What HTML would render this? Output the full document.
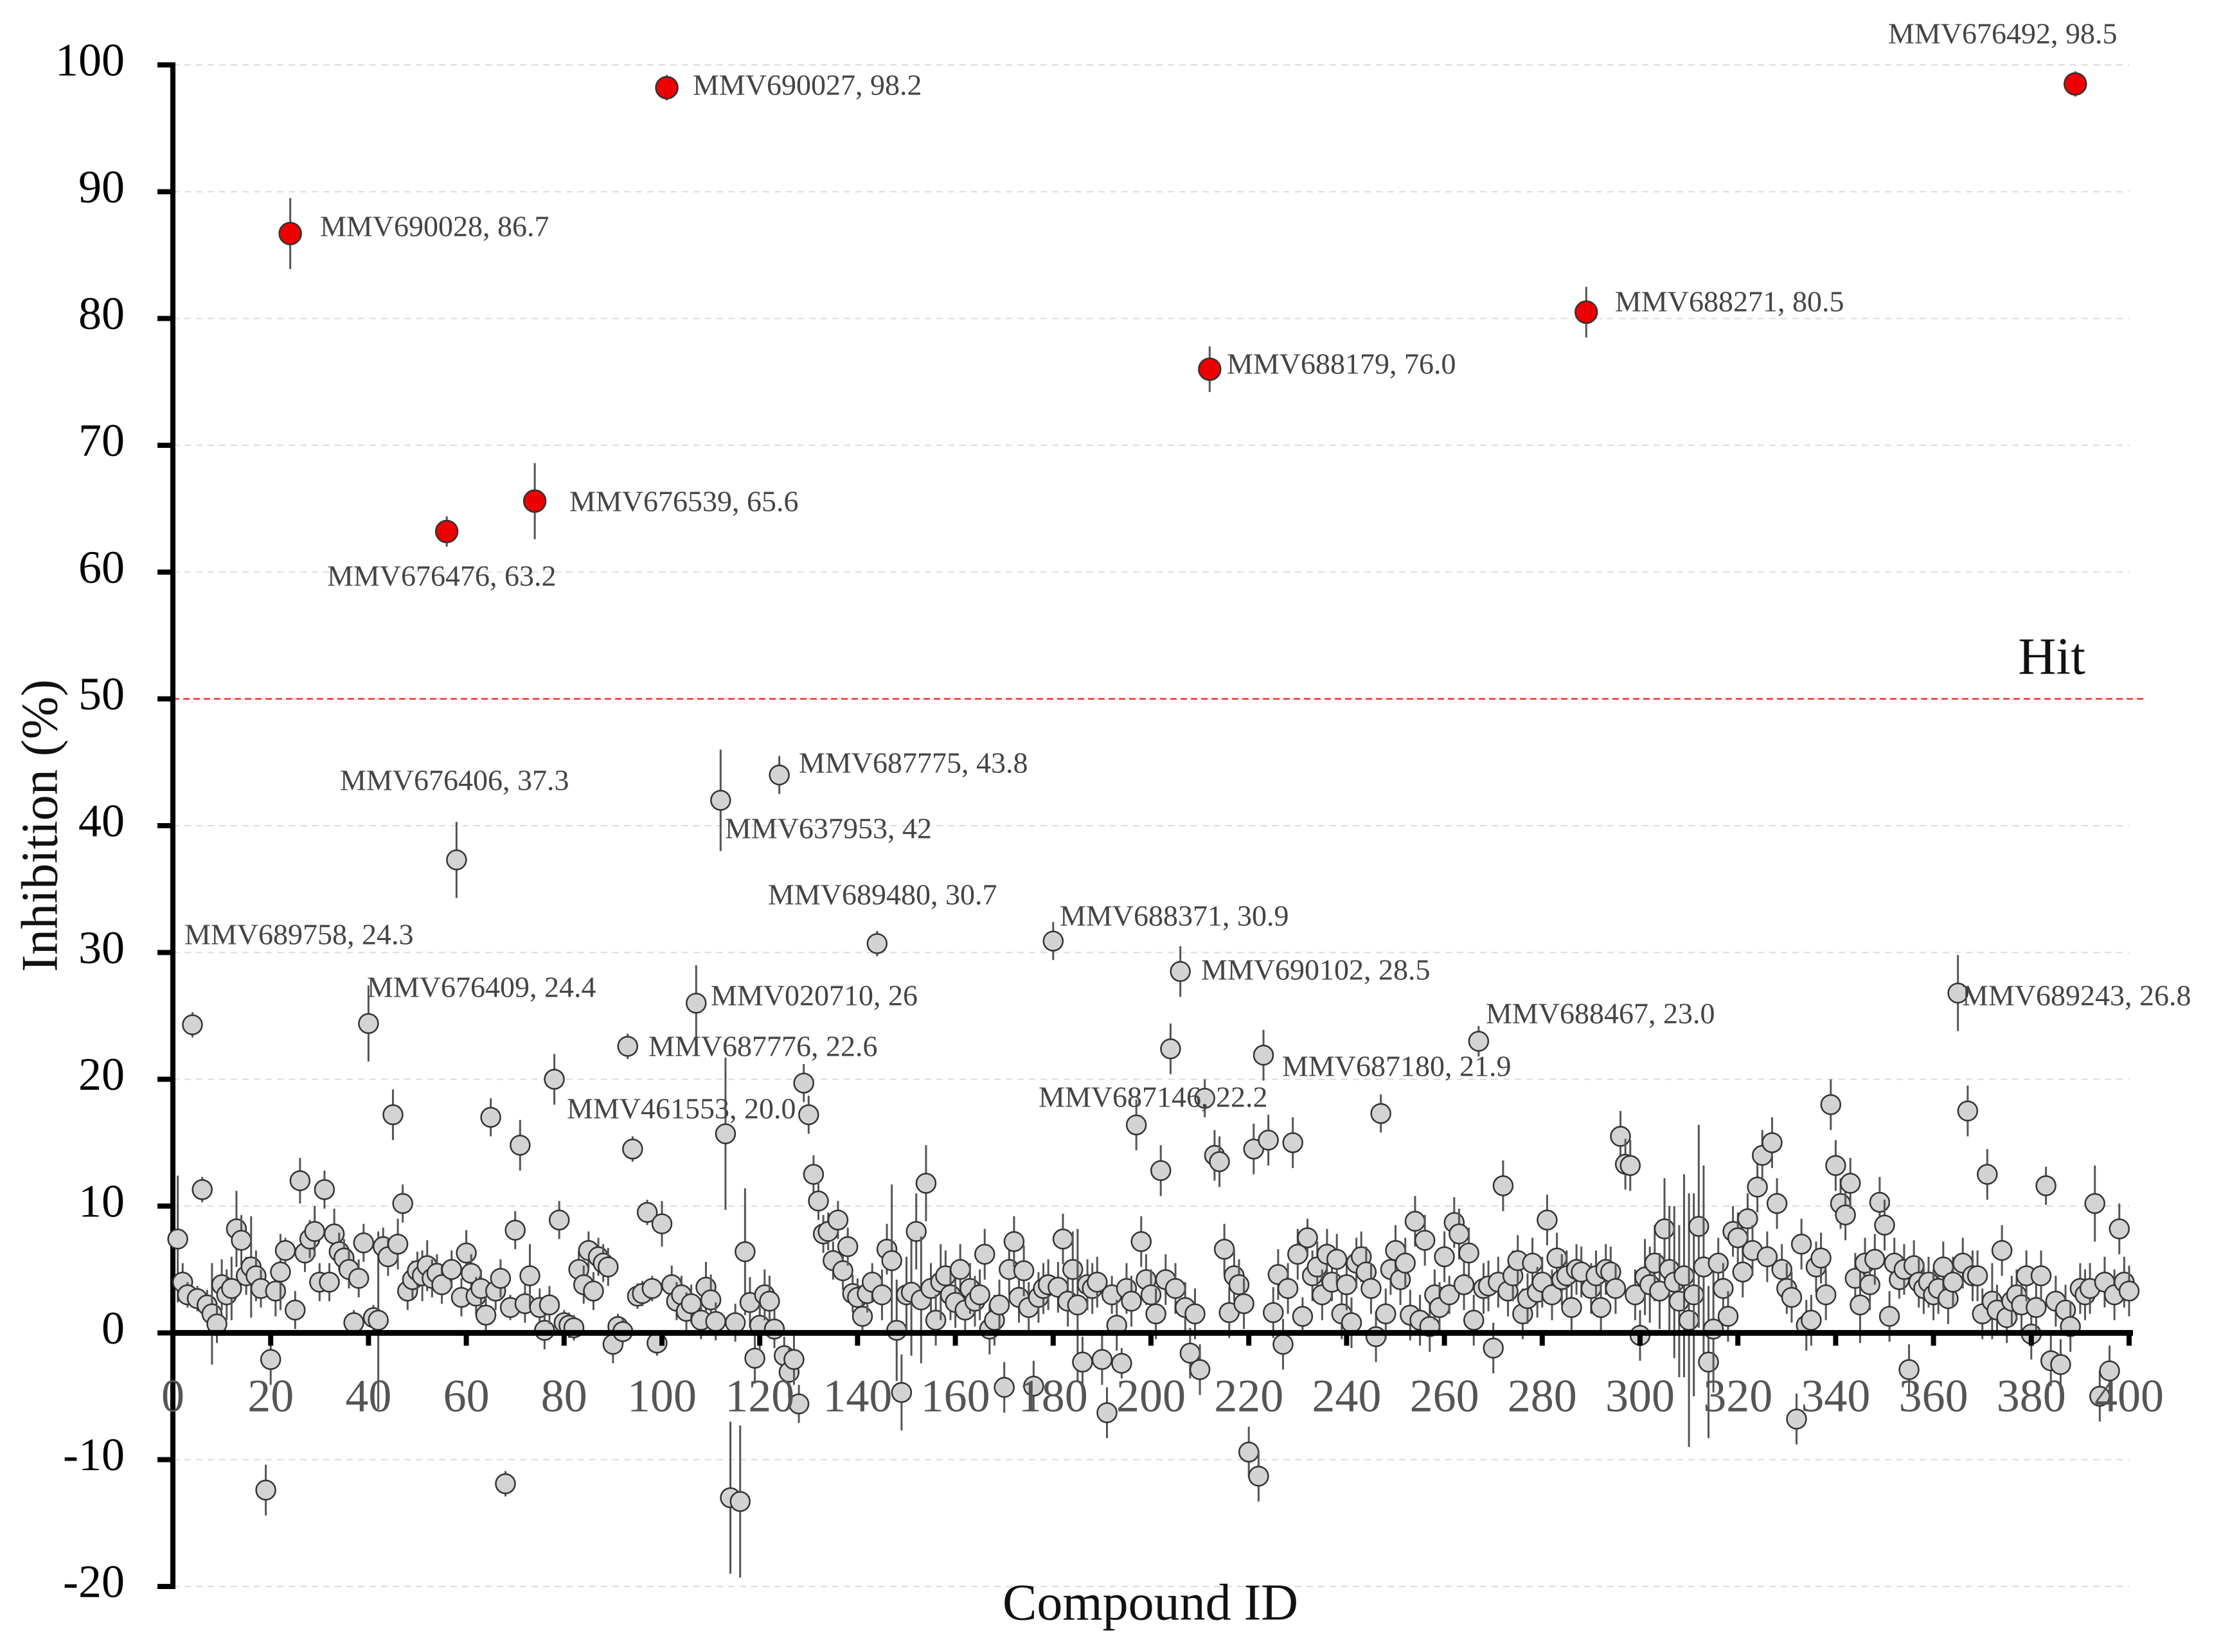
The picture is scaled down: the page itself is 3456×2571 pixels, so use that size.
<!DOCTYPE html>
<html><head><meta charset="utf-8"><style>
html,body{margin:0;padding:0;background:#fff}
svg{display:block}
text{font-family:"Liberation Serif",serif}
</style></head><body>
<svg id="chart" width="3456" height="2571" viewBox="0 0 3456 2571" xmlns="http://www.w3.org/2000/svg">
<g id="grid"></g>
<g id="hit"></g>
<g id="axes"></g>
<g id="points"></g>
<g id="labels"></g>
<text x="0" y="0" transform="translate(70,1285) rotate(-90)" text-anchor="middle" dominant-baseline="middle" font-size="80" fill="#111">Inhibition (%)</text>
<text x="1790" y="2502" text-anchor="middle" dominant-baseline="middle" font-size="80" fill="#111">Compound ID</text>
</svg>
<script>
const yTicks=[-20,-10,0,10,20,30,40,50,60,70,80,90,100];
const xTicks=[0,20,40,60,80,100,120,140,160,180,200,220,240,260,280,300,320,340,360,380,400];
const hitThreshold=50;
const values=[
7.4,4.0,3.0,24.3,2.7,11.3,2.2,1.5,0.7,3.8,3.0,3.5,8.2,7.3,4.5,5.2,4.5,3.5,-12.4,-2.1,
3.3,4.8,6.5,86.7,1.8,12.0,6.3,7.4,8.0,4.0,11.3,4.0,7.8,6.4,5.9,5.0,0.8,4.3,7.1,24.4,
1.2,1.0,6.8,6.0,17.2,7.0,10.2,3.3,4.2,4.9,4.5,5.3,4.3,4.7,3.8,63.2,5.0,37.3,2.8,6.3,
4.7,2.9,3.5,1.4,17.0,3.3,4.3,-11.9,2.0,8.1,14.8,2.3,4.5,65.6,2.0,0.2,2.2,20.0,8.9,0.8,
0.6,0.4,5.0,3.8,6.5,3.3,6.0,5.5,5.2,-0.9,0.5,0.1,22.6,14.5,2.9,3.1,9.5,3.5,-0.8,8.6,
98.2,3.8,2.5,3.0,1.7,2.3,26.0,1.0,3.6,2.6,0.9,42.0,15.7,-13.0,0.8,-13.3,6.4,2.4,-2.0,0.6,
3.0,2.5,0.3,44.0,-1.8,-3.1,-2.1,-5.6,19.7,17.2,12.5,10.4,7.8,8.0,5.7,8.9,4.9,6.8,3.1,2.8,
1.3,3.1,4.0,30.7,3.0,6.6,5.7,0.2,-4.7,3.0,3.2,8.0,2.6,11.8,3.5,1.0,4.0,4.5,3.0,2.4,
5.0,1.8,3.5,2.5,3.0,6.2,0.3,1.0,2.2,-4.3,5.0,7.2,2.8,4.9,2.0,-4.2,2.8,3.5,3.8,30.9,
3.6,7.4,2.5,5.0,2.2,-2.3,3.8,3.5,4.0,-2.1,-6.3,3.0,0.6,-2.4,3.5,2.5,16.4,7.2,4.2,3.0,
1.5,12.8,4.2,22.4,3.5,28.5,2.0,-1.6,1.5,-2.9,18.5,76.0,14.0,13.5,6.6,1.6,4.5,3.8,2.3,-9.4,
14.5,-11.3,21.9,15.2,1.6,4.6,-0.9,3.5,15.0,6.2,1.3,7.5,4.5,5.2,3.0,6.2,4.0,5.8,1.5,3.8,
0.8,5.5,6.0,4.8,3.5,-0.3,17.3,1.5,5.0,6.5,4.2,5.5,1.4,8.8,1.0,7.3,0.5,3.0,2.0,6.0,
3.0,8.7,7.8,3.8,6.3,1.0,23.0,3.5,3.7,-1.2,4.0,11.6,3.3,4.5,5.7,1.5,2.7,5.5,3.2,4.0,
8.9,3.0,5.9,4.2,4.5,2.0,5.0,4.8,80.5,3.5,4.5,2.0,5.0,4.8,3.5,15.5,13.3,13.2,3.0,-0.2,
4.4,3.8,5.5,3.3,8.2,5.0,4.0,2.5,4.5,1.0,3.0,8.4,5.2,-2.3,0.3,5.5,3.5,1.3,8.0,7.5,
4.8,9.0,6.5,11.5,14.0,6.0,15.0,10.2,5.0,3.5,2.8,-6.8,7.0,0.6,1.0,5.2,5.9,3.0,18.0,13.2,
10.2,9.3,11.8,4.3,2.2,5.5,3.8,5.8,10.3,8.5,1.3,5.5,4.2,5.0,-2.9,5.3,4.0,3.5,4.0,3.0,
3.5,5.2,2.7,4.0,26.8,5.5,17.5,4.5,4.5,1.5,12.5,2.5,1.8,6.5,1.2,2.5,3.0,2.2,4.5,-0.1,
2.0,4.5,11.6,-2.2,2.5,-2.5,1.8,0.5,98.5,3.5,3.0,3.5,10.2,-5.0,4.0,-3.0,3.0,8.2,4.0,3.3
];
const errors=[
5,1.5,1,1,1,1,1.2,4,1.5,2,2,2.5,3,2,1.5,4,2,1.5,2,2,
2,3,1,2.8,1.5,1.8,1.5,1.5,2,1.5,1.5,1.5,2,1.5,1.5,1.5,1,1.5,1.5,3,
1,7,1.5,1.5,2,2,1.5,1.5,1.5,1.5,2,2,1.5,1.5,1.5,1.2,1.5,3,1.5,1.8,
1.5,1.5,1.5,1.5,1.5,1.5,1.5,1,1,1.5,2,1.5,2.5,3,1.5,1.5,1.5,2,1.5,1,
1,1,1.5,1.5,1.5,1.5,1.5,1.5,1.5,1.5,1,1,1,1,1,1,1,1,1,1.8,
1,1.5,1.5,1.5,1.5,1.5,3,1.5,2,2,1.5,4,6,6,1.5,6,5,2,2,2,
2,2,1.5,1.5,1.5,2,2,1.5,1.5,1.5,1.5,1.5,1.5,1.5,1.5,1.5,1.5,1.5,1.5,1.5,
1.5,1.5,1.5,1,2,2,6,4,3,3,5,3,5,3,2,2,3,2,2,2,
2,2,2,2,2,2,2,2,2,2,2,2,2,2,2,2,2,2,2,1.5,
2,2,2,3,6,2,2,2,2,2,2,1.5,2,1.2,2,2,2,2,2,2,
2,2,2,2,2,2,2,2,2,2,1.5,1.8,2,2,2,2,2,2,2,2,
2,2,2,2,2,2,2,2,2,2,1.5,1.5,2,2,2,2,1.5,2,2,2,
2,2,2,2,2,2,1.5,2,2,2,2,2,2,2,2,2,2,2,2,2,
1.5,2,2,2,2,2,1.2,2,2,2,2,2,2,2,2,2,2,2,2,2,
2,2,2,2,2,2,2,2,2,2,2,2,2,2,2,2,2,2,2,2,
3,3,3,3,4,5,6,6,8,10,8,8,8,6,5,2,2,2,2,2,
2,2,2,2,2,2,2,2,2,2,2,2,2,2,2,2,2,2,2,2,
2,2,2,2,3,2,2,2,2,2,2,2,1.5,2,2,2,2,2,2,2,
2,2,2,2,3,2,2,2,2,2,2,3,2,2,2,2,2,2,2,2,
2,2,1.5,2,2,2,2,2,1,2,2,2,3,2,2,2,2,2,2,2
];
const hitIds=[24,56,74,101,212,289,389];
const labelTexts=["MMV690028, 86.7","MMV690027, 98.2","MMV676492, 98.5","MMV688271, 80.5","MMV688179, 76.0","MMV676539, 65.6","MMV676476, 63.2","MMV676406, 37.3","MMV687775, 43.8","MMV637953, 42","MMV689480, 30.7","MMV688371, 30.9","MMV689758, 24.3","MMV690102, 28.5","MMV676409, 24.4","MMV020710, 26","MMV688467, 23.0","MMV689243, 26.8","MMV687776, 22.6","MMV687180, 21.9","MMV687146, 22.2","MMV461553, 20.0"];
const labelPos=[[498,357],[1078,137],[2938,57],[2513,474],[1909,571],[886,785],[509,901],[529,1219],[1243,1192],[1128,1294],[1195,1397],[1649,1430],[287,1459],[1869,1514],[571,1541],[1106,1554],[2312,1582],[3053,1554],[1009,1633],[1995,1664],[1616,1712],[882,1730]];

const NS="http://www.w3.org/2000/svg";
const X0=269,X1=3313,YT=101,YB=2469;
function xs(v){return X0+(v-0)/(400-0)*(X1-X0);}
function ys(v){return YB-(v-(-20))/(100-(-20))*(YB-YT);}
function mk(tag,attrs,parent){const e=document.createElementNS(NS,tag);for(const k in attrs)e.setAttribute(k,attrs[k]);parent.appendChild(e);return e;}

const svg=document.getElementById('chart');
const grid=document.getElementById('grid');
yTicks.forEach(t=>{
  if(t===0||t===50)return;
  const l=mk('line',{x1:X0,x2:X1,y1:ys(t),y2:ys(t),stroke:'#dcdcdc','stroke-width':2,'stroke-dasharray':'10 8'},grid);
  
  
});
const hitG=document.getElementById('hit');
const hl=mk('line',{x1:X0,x2:3340,y1:ys(hitThreshold),y2:ys(hitThreshold),stroke:'#f03030','stroke-width':2.5,'stroke-dasharray':'10 6'},hitG);


const ht=mk('text',{x:3245,y:ys(hitThreshold)-58,'font-size':82,'text-anchor':'end','dominant-baseline':'middle',fill:'#111'},hitG);
ht.textContent='Hit';



const axes=document.getElementById('axes');
const ya=mk('line',{x1:X0,x2:X0,y1:YT-4,y2:YB+4,stroke:'#000','stroke-width':8},axes);


yTicks.forEach(t=>{
  const tk=mk('line',{x1:X0-24,x2:X0,y1:ys(t),y2:ys(t),stroke:'#000','stroke-width':8},axes);
  
  
  const tx=mk('text',{x:194,y:ys(t),'font-size':72,'text-anchor':'end','dominant-baseline':'middle',fill:'#000'},axes);
  tx.textContent=t;
  
  
});

const pts=document.getElementById('points');
values.forEach((v,i)=>{
  const id=i+1;
  if(hitIds.includes(id))return;
  const e=errors[i];
  const el=mk('line',{x1:xs(id),x2:xs(id),y1:ys(v+e),y2:ys(v-e),stroke:'#555','stroke-width':3},pts);
  
  
  const c=mk('circle',{cx:xs(id),cy:ys(v),r:15,fill:'#d3d3d3',stroke:'#333','stroke-width':2.5},pts);
  
  
});
hitIds.forEach(id=>{
  const v=values[id-1],e=errors[id-1];
  const el=mk('line',{x1:xs(id),x2:xs(id),y1:ys(v+e),y2:ys(v-e),stroke:'#555','stroke-width':3},pts);
  
  
  const c=mk('circle',{cx:xs(id),cy:ys(v),r:17,fill:'#ee0000',stroke:'#333','stroke-width':2.5},pts);
  
  
});

const xa=mk('line',{x1:X0-4,x2:X1+6,y1:ys(0),y2:ys(0),stroke:'#000','stroke-width':9},svg);


xTicks.forEach(t=>{
  const tk=mk('line',{x1:xs(t),x2:xs(t),y1:ys(0),y2:ys(0)+20,stroke:'#000','stroke-width':8},svg);
  
  
  const tx=mk('text',{x:xs(t),y:2180,'font-size':72,'text-anchor':'middle','dominant-baseline':'middle',fill:'#555'},svg);
  tx.textContent=t;
  
  
});

const lab=document.getElementById('labels');
svg.appendChild(lab);
labelTexts.forEach((s,i)=>{
  const t=mk('text',{x:labelPos[i][0],y:labelPos[i][1],'font-size':46,'dominant-baseline':'middle',fill:'#444'},lab);
  t.textContent=s;
  
  
});
</script>
</body></html>
